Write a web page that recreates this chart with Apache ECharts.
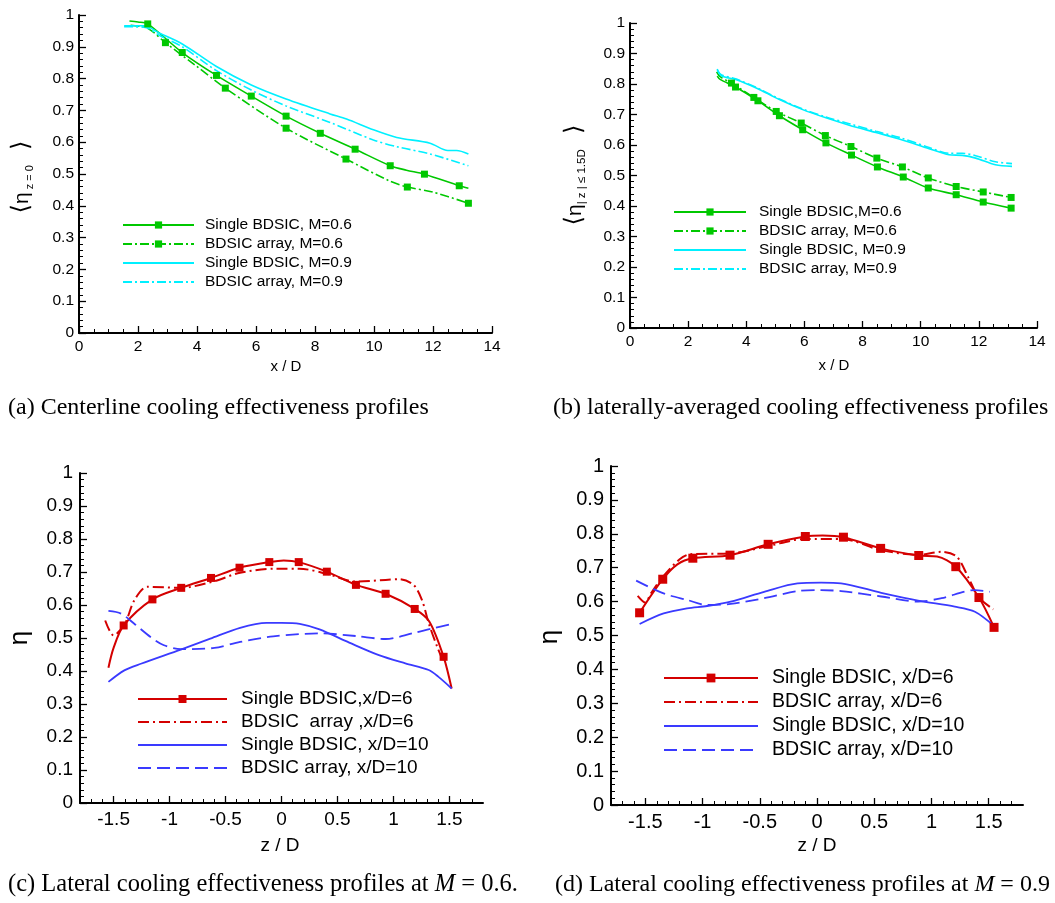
<!DOCTYPE html>
<html><head><meta charset="utf-8">
<script src="https://cdn.jsdelivr.net/npm/echarts@6/dist/echarts.min.js"></script>
<style>html,body{margin:0;padding:0;background:#fff}#c{width:1055px;height:903px}</style>
</head><body><div id="c"></div><script>
// ---------- tick labels ----------
const xTicksAB = [0, 2, 4, 6, 8, 10, 12, 14];
const yTicks = [0, 0.1, 0.2, 0.3, 0.4, 0.5, 0.6, 0.7, 0.8, 0.9, 1];
const xTicksCD = [-1.5, -1, -0.5, 0, 0.5, 1, 1.5];

// ---------- legend names ----------
const namesA = ['Single BDSIC, M=0.6', 'BDSIC array, M=0.6', 'Single BDSIC, M=0.9', 'BDSIC array, M=0.9'];
const namesB = ['Single BDSIC,M=0.6', 'BDSIC array, M=0.6', 'Single BDSIC, M=0.9', 'BDSIC array, M=0.9'];
const namesC = ['Single BDSIC,x/D=6', 'BDSIC  array ,x/D=6', 'Single BDSIC, x/D=10', 'BDSIC array, x/D=10'];
const namesD = ['Single BDSIC, x/D=6', 'BDSIC array, x/D=6', 'Single BDSIC, x/D=10', 'BDSIC array, x/D=10'];

// ---------- (a) centerline ----------
const aS06Line = [[1.71,0.981],[2.0,0.978],[11.1,0.512],[13.2,0.455]];
const aS06Marks = [[2.33,0.972],[3.5,0.882],[4.66,0.810],[5.84,0.745],[7.02,0.682],[8.18,0.628],[9.36,0.578],[10.55,0.526],[11.71,0.4995],[12.89,0.463]];
const aA06Line = [[1.75,0.968],[2.33,0.958],[3.9,0.845],[10.53,0.478],[12.0,0.443]];
const aA06Marks = [[2.93,0.913],[4.96,0.770],[7.02,0.644],[9.05,0.547],[11.13,0.459],[13.2,0.408]];
const aS09 = [[1.53,0.966],[2.2,0.966],[2.75,0.942],[3.5,0.909],[4.66,0.838],[5.84,0.780],[7.02,0.736],[8.51,0.689],[9.07,0.673],[9.98,0.639],[10.77,0.615],[11.9,0.597],[12.5,0.574],[12.8,0.574],[13.2,0.563]];
const aA09 = [[1.53,0.963],[2.2,0.962],[2.75,0.935],[3.5,0.900],[4.66,0.825],[5.84,0.764],[7.02,0.714],[8.51,0.662],[9.98,0.607],[10.77,0.586],[11.9,0.563],[13.2,0.526]];

// ---------- (b) laterally averaged ----------
const bS06Line = [[3.0,0.826],[3.1,0.815]];
const bS06Marks = [[3.63,0.790],[4.40,0.745],[5.14,0.696],[5.94,0.650],[6.74,0.607],[7.62,0.567],[8.51,0.528],[9.40,0.495],[10.26,0.459],[11.22,0.437],[12.15,0.413],[13.11,0.393]];
const bA06Line = [[2.98,0.840],[3.1,0.824]];
const bA06Marks = [[3.49,0.803],[4.26,0.756],[5.03,0.710],[5.89,0.672],[6.72,0.631],[7.6,0.595],[8.49,0.557],[9.37,0.528],[10.26,0.492],[11.22,0.464],[12.15,0.446],[13.11,0.428]];
const bS09 = [[3.0,0.849],[3.14,0.827],[3.66,0.814],[4.34,0.787],[5.14,0.749],[5.94,0.716],[6.74,0.689],[7.54,0.665],[8.46,0.641],[9.26,0.620],[10.29,0.588],[10.97,0.568],[11.43,0.566],[11.89,0.557],[12.57,0.535],[13.14,0.530]];
const bA09 = [[3.0,0.845],[3.14,0.830],[3.66,0.816],[4.34,0.789],[5.14,0.751],[5.94,0.718],[6.74,0.692],[7.54,0.670],[8.46,0.645],[9.26,0.625],[10.29,0.592],[10.97,0.573],[11.43,0.573],[11.89,0.565],[12.57,0.545],[13.14,0.539]];

// ---------- (c) lateral, M=0.6 ----------
const cS6Line = [[-1.546,0.41],[-1.5,0.47],[0.02,0.735],[1.32,0.55],[1.52,0.347]];
const cS6Marks = [[-1.41,0.538],[-1.153,0.617],[-0.896,0.652],[-0.63,0.682],[-0.375,0.713],[-0.109,0.730],[0.154,0.730],[0.405,0.701],[0.665,0.661],[0.93,0.634],[1.19,0.588],[1.448,0.443]];
const cA6 = [[-1.575,0.553],[-1.50,0.508],[-1.4,0.543],[-1.315,0.614],[-1.2,0.655],[-0.9,0.652],[-0.6,0.672],[-0.37,0.698],[-0.044,0.710],[0.16,0.710],[0.4,0.695],[0.665,0.671],[0.93,0.676],[1.05,0.678],[1.18,0.661],[1.255,0.615],[1.315,0.545],[1.39,0.474],[1.45,0.425]];
const cS10 = [[-1.546,0.367],[-1.404,0.402],[-1.256,0.422],[-0.9,0.465],[-0.636,0.498],[-0.37,0.531],[-0.133,0.546],[0,0.546],[0.163,0.543],[0.34,0.526],[0.605,0.486],[0.87,0.448],[1.106,0.423],[1.315,0.403],[1.40,0.383],[1.52,0.347]];
const cA10 = [[-1.546,0.582],[-1.434,0.574],[-1.315,0.543],[-1.17,0.503],[-1.05,0.478],[-0.9,0.466],[-0.6,0.470],[-0.37,0.488],[-0.074,0.505],[0.34,0.514],[0.665,0.506],[0.93,0.497],[1.167,0.514],[1.344,0.529],[1.52,0.542]];

// ---------- (d) lateral, M=0.9 ----------
const dS6Line = [[-1.22,0.71],[0.05,0.795],[1.05,0.733]];
const dS6Marks = [[-1.55,0.567],[-1.348,0.666],[-1.085,0.728],[-0.76,0.737],[-0.427,0.769],[-0.102,0.792],[0.231,0.790],[0.556,0.757],[0.889,0.736],[1.213,0.703],[1.415,0.612],[1.547,0.524]];
const dA6 = [[-1.567,0.617],[-1.5,0.597],[-1.45,0.625],[-1.35,0.672],[-1.2,0.725],[-1.105,0.740],[-0.754,0.742],[-0.427,0.764],[-0.1,0.785],[0.234,0.784],[0.556,0.752],[0.889,0.738],[1.088,0.747],[1.22,0.733],[1.32,0.673],[1.41,0.614],[1.54,0.577]];
const dS10 = [[-1.55,0.534],[-1.34,0.565],[-1.135,0.580],[-0.96,0.587],[-0.754,0.600],[-0.462,0.629],[-0.17,0.654],[0.035,0.656],[0.21,0.654],[0.561,0.626],[0.883,0.603],[1.204,0.585],[1.38,0.570],[1.547,0.528]];
const dA10 = [[-1.58,0.662],[-1.34,0.624],[-1.135,0.605],[-0.96,0.590],[-0.754,0.593],[-0.462,0.610],[-0.17,0.631],[0.035,0.634],[0.21,0.631],[0.561,0.615],[0.883,0.600],[1.088,0.610],[1.38,0.634],[1.51,0.629]];

// ---------- styles ----------
const GREEN = '#00c800', CYAN = '#00f0ff', RED = '#d40000', BLUE = '#3a3aff';
const SANS = 'Liberation Sans, Arial, sans-serif';
const SERIF = 'Liberation Serif, Times New Roman, serif';
const DASHDOT = [9, 3, 2, 3];
const DASHDOT2 = [11, 4, 2, 4];
const DASH = [13, 6];

function merge(linePts, markPts) {
  const out = linePts.map(p => ({ value: p, symbol: 'none' }))
    .concat((markPts || []).map(p => ({ value: p })));
  out.sort((a, b) => a.value[0] - b.value[0]);
  return out;
}
function ser(name, axis, data, color, width, type, marked, symSize) {
  return {
    type: 'line', name, xAxisIndex: axis.x, yAxisIndex: axis.y,
    data, smooth: 0.3, symbol: marked ? 'rect' : 'none', symbolSize: symSize || 7,
    showSymbol: marked, showAllSymbol: true,
    lineStyle: { color, width, type }, itemStyle: { color },
    animation: false, silent: true, clip: false
  };
}

function yAx(grid, fs, margin) {
  return {
    type: 'value', gridIndex: grid, min: 0, max: 1, interval: 0.1, position: 'left',
    axisLine: { show: true, onZero: false, lineStyle: { color: '#000', width: 2 } },
    axisTick: { show: true, inside: true, length: 7, lineStyle: { color: '#000', width: 1.3 } },
    minorTick: { show: true, splitNumber: 5, length: 4, lineStyle: { color: '#000', width: 1 } },
    splitLine: { show: false }, minorSplitLine: { show: false },
    axisLabel: { fontSize: fs, color: '#000', fontFamily: SANS, margin }
  };
}
function xAxAB(grid, fs) {
  return {
    type: 'value', gridIndex: grid, min: 0, max: 14, interval: 2, position: 'bottom',
    axisLine: { show: true, onZero: false, lineStyle: { color: '#000', width: 2 } },
    axisTick: { show: true, inside: true, length: 7, lineStyle: { color: '#000', width: 1.3 } },
    minorTick: { show: true, splitNumber: 4, length: 4, lineStyle: { color: '#000', width: 1 } },
    splitLine: { show: false }, minorSplitLine: { show: false },
    axisLabel: { fontSize: fs, color: '#000', fontFamily: SANS, margin: 6 }
  };
}
const minorCD = [];
for (let k = -17; k <= 17; k++) { if (k % 5 !== 0) minorCD.push(k / 10); }
function xAxCD(grid, fs) {
  return [{
    type: 'value', gridIndex: grid, min: -1.8, max: 1.8, position: 'bottom',
    axisLine: { show: true, onZero: false, lineStyle: { color: '#000', width: 2 } },
    axisTick: { show: true, inside: true, length: 7, customValues: xTicksCD, lineStyle: { color: '#000', width: 1.3 } },
    splitLine: { show: false },
    axisLabel: { fontSize: fs, color: '#000', fontFamily: SANS, margin: 7, customValues: xTicksCD }
  }, {
    type: 'value', gridIndex: grid, min: -1.8, max: 1.8, position: 'bottom',
    axisLine: { show: false, onZero: false },
    axisTick: { show: true, inside: true, length: 4, customValues: minorCD, lineStyle: { color: '#000', width: 1 } },
    splitLine: { show: false },
    axisLabel: { show: false }
  }];
}

function legend(names, noMark, left, top, itemWidth, itemHeight, fs, lh, gap) {
  return {
    orient: 'vertical', left, top, padding: 0, itemGap: 0,
    itemWidth, itemHeight, selectedMode: false,
    data: names.map((n, i) => noMark[i] ? { name: n, itemStyle: { opacity: 0 } } : n),
    textStyle: { fontSize: fs, lineHeight: lh, color: '#000', fontFamily: SANS, padding: [0, 0, 0, gap] }
  };
}

const A = { x: 0, y: 0 }, B = { x: 1, y: 1 }, C = { x: 2, y: 2 }, D = { x: 4, y: 3 };

function label(x, y, text, size, rot) {
  return { type: 'text', x, y, rotation: rot || 0, silent: true,
    style: { text, fill: '#000', font: size + 'px ' + SANS, align: 'center', verticalAlign: 'middle', textAlign: 'center', textVerticalAlign: 'middle' } };
}
function caption(x, y, text, size) {
  return { type: 'text', x, y, silent: true,
    style: { text, fill: '#000', font: size + 'px ' + SERIF, align: 'left', verticalAlign: 'middle', textAlign: 'left', textVerticalAlign: 'middle',
      rich: { i: { fontStyle: 'italic', fontSize: size, fontFamily: SERIF, fill: '#000' } } } };
}
function yName(x, y, sub, subSize) {
  return { type: 'text', x, y, rotation: Math.PI / 2, silent: true, style: {
    text: '{br|⟨}{eta|η}{sub|' + sub + '}{br|  ⟩}', fill: '#000', align: 'center', verticalAlign: 'middle', textAlign: 'center', textVerticalAlign: 'middle',
    rich: { br: { fontSize: 24, fontFamily: 'DejaVu Sans', lineHeight: 26, fill: '#000' },
            eta: { fontSize: 21, fontFamily: SANS, lineHeight: 26, fill: '#000' },
            sub: { fontSize: subSize, fontFamily: SANS, verticalAlign: 'bottom', lineHeight: 12, fill: '#000' } } } };
}

const option = {
  backgroundColor: '#fff',
  animation: false,
  grid: [
    { left: 79, top: 15, width: 413, height: 318 },
    { left: 630, top: 23, width: 407, height: 305 },
    { left: 80, top: 473, width: 403, height: 330 },
    { left: 611, top: 466, width: 412, height: 339 }
  ],
  xAxis: [xAxAB(0, 15.5), xAxAB(1, 15.5)].concat(xAxCD(2, 19)).concat(xAxCD(3, 20)),
  yAxis: [yAx(0, 15.5, 5), yAx(1, 15.5, 5), yAx(2, 19, 7), yAx(3, 20, 7)],
  legend: [
    legend(namesA, [false, false, true, true], 122, 215.5, 71, 9, 15.5, 19, 6),
    legend(namesB, [false, false, true, true], 673, 202.5, 72, 9, 15.5, 19, 8),
    legend(namesC, [false, true, true, true], 137, 687.5, 89, 10, 19, 23, 9),
    legend(namesD, [false, true, true, true], 663, 666, 94, 11, 19.5, 24, 9)
  ],
  series: [
    ser(namesA[0], A, merge(aS06Line, aS06Marks), GREEN, 1.6, 'solid', true, 7),
    ser(namesA[1], A, merge(aA06Line, aA06Marks), GREEN, 1.6, DASHDOT, true, 7),
    ser(namesA[2], A, merge(aS09), CYAN, 1.6, 'solid', false),
    ser(namesA[3], A, merge(aA09), CYAN, 1.6, DASHDOT, false),

    ser(namesB[0], B, merge(bS06Line, bS06Marks), GREEN, 1.6, 'solid', true, 7),
    ser(namesB[1], B, merge(bA06Line, bA06Marks), GREEN, 1.6, DASHDOT, true, 7),
    ser(namesB[2], B, merge(bS09), CYAN, 1.6, 'solid', false),
    ser(namesB[3], B, merge(bA09), CYAN, 1.6, DASHDOT, false),

    ser(namesC[0], C, merge(cS6Line, cS6Marks), RED, 2, 'solid', true, 8),
    ser(namesC[1], C, merge(cA6), RED, 2, DASHDOT2, false),
    ser(namesC[2], C, merge(cS10), BLUE, 1.8, 'solid', false),
    ser(namesC[3], C, merge(cA10), BLUE, 1.8, DASH, false),

    ser(namesD[0], D, merge(dS6Line, dS6Marks), RED, 2, 'solid', true, 9),
    ser(namesD[1], D, merge(dA6), RED, 2, DASHDOT2, false),
    ser(namesD[2], D, merge(dS10), BLUE, 1.8, 'solid', false),
    ser(namesD[3], D, merge(dA10), BLUE, 1.8, DASH, false)
  ],
  graphic: [
    label(286, 367, 'x / D', 15),
    label(834, 366, 'x / D', 15),
    label(280, 846, 'z / D', 19),
    label(817, 846, 'z / D', 19),
    yName(22, 177, ' z = 0', 11),
    yName(575, 175, '| z | ≤ 1.5D', 11.5),
    label(20, 638, 'η', 26, Math.PI / 2),
    label(550, 637, 'η', 26, Math.PI / 2),
    caption(8, 408, '(a) Centerline cooling effectiveness profiles', 24),
    caption(553, 408, '(b) laterally-averaged cooling effectiveness profiles', 24),
    caption(8, 885, '(c) Lateral cooling effectiveness profiles at {i|M} = 0.6.', 24.5),
    caption(555, 885, '(d) Lateral cooling effectiveness profiles at {i|M} = 0.9', 24)
  ]
};

const chart = echarts.init(document.getElementById('c'), null, { renderer: 'canvas' });
chart.setOption(option);
</script></body></html>
